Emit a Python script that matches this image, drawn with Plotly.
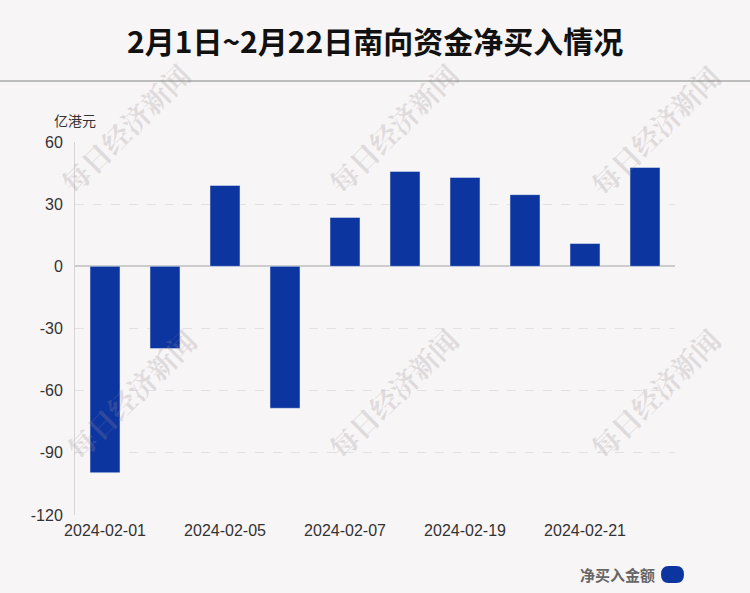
import plotly.graph_objects as go

dates = ["2024-02-01", "2024-02-02", "2024-02-05", "2024-02-06", "2024-02-07",
         "2024-02-08", "2024-02-19", "2024-02-20", "2024-02-21", "2024-02-22"]
net_buy = [-99.6, -39.7, 39.0, -68.5, 23.6, 45.8, 42.9, 34.6, 11.0, 47.7]
tick_labels = ["2024-02-01", "2024-02-05", "2024-02-07", "2024-02-19", "2024-02-21"]
y_ticks = [60, 30, 0, -30, -60, -90, -120]

BG = "#f8f5f6"
BLUE = "#0d35a0"
FONT = "Liberation Sans, Noto Sans CJK SC, sans-serif"
H_PLOT = 593 - 142 - 78


def py(pix):
    return (593 - pix - 78) / H_PLOT


def px(pix):
    return (pix - 75) / 600


fig = go.Figure()
fig.add_trace(go.Bar(x=dates, y=net_buy, marker_color=BLUE, width=0.5,
                     name="净买入金额", showlegend=False))

fig.update_layout(
    width=750, height=593,
    paper_bgcolor=BG, plot_bgcolor=BG,
    margin=dict(l=75, r=75, t=142, b=78),
    font=dict(family=FONT, size=16, color="#333333"),
    bargap=0.5,
)
fig.update_xaxes(type="category", tickmode="array", tickvals=tick_labels, ticktext=tick_labels,
                 showgrid=False, showline=False, ticks="", zeroline=False, ticklabelstandoff=4,
                 tickfont=dict(size=16, color="#333333"))
fig.update_yaxes(range=[-120, 60], tickvals=y_ticks, ticktext=[str(v) for v in y_ticks],
                 showgrid=True, gridcolor="#e4e0e1",
                 griddash="dash", gridwidth=1, zeroline=True, zerolinecolor="#cccccc",
                 zerolinewidth=2, showline=True, linecolor="#d8d5d6", linewidth=1,
                 ticks="", ticklabelstandoff=8, tickfont=dict(size=16, color="#333333"))

# title
fig.add_annotation(text="<b>2月1日~2月22日南向资金净买入情况</b>", xref="paper", yref="paper",
                   x=0.5, y=py(40), xanchor="center", yanchor="middle",
                   showarrow=False, font=dict(family="Noto Sans CJK SC", size=30, color="#111111"))
# separator
fig.add_shape(type="line", xref="paper", yref="paper",
              x0=px(0), x1=px(750), y0=py(81), y1=py(81),
              line=dict(color="#bdbdbd", width=2))
# y axis unit
fig.add_annotation(text="亿港元", xref="paper", yref="paper", x=0, y=py(120),
                   xanchor="center", yanchor="middle", showarrow=False,
                   font=dict(family="Noto Sans CJK SC", size=14, color="#333333"))

# watermarks
for (wx, wy) in [(125, 128), (393, 128), (655, 130), (131, 394), (393, 393), (655, 393)]:
    fig.add_annotation(text="<b>每日经济新闻</b>", xref="paper", yref="paper",
                       x=px(wx), y=py(wy), showarrow=False, xanchor="center", yanchor="middle",
                       textangle=-45, font=dict(family="Noto Serif CJK SC, Noto Sans CJK SC", size=28,
                                                color="rgba(150,140,145,0.25)"))

# legend
fig.add_annotation(text="<b>净买入金额</b>", xref="paper", yref="paper",
                   x=px(657), y=py(574), xanchor="right", yanchor="middle",
                   showarrow=False, font=dict(family="Noto Sans CJK SC", size=15, color="#666666"))
x0, x1, y0, y1 = px(661), px(684), py(583), py(566)
rx, ry = (x1 - x0) / 3, (y1 - y0) / 2
path = (f"M {x0 + rx},{y0} L {x1 - rx},{y0} Q {x1},{y0} {x1},{y0 + ry} "
        f"Q {x1},{y1} {x1 - rx},{y1} L {x0 + rx},{y1} Q {x0},{y1} {x0},{y0 + ry} "
        f"Q {x0},{y0} {x0 + rx},{y0} Z")
fig.add_shape(type="path", xref="paper", yref="paper", path=path,
              line=dict(width=0), fillcolor=BLUE)

fig.write_html("out.html", config={"displayModeBar": False},
               post_script="document.body.style.margin='0';document.body.style.background='%s';" % BG)
